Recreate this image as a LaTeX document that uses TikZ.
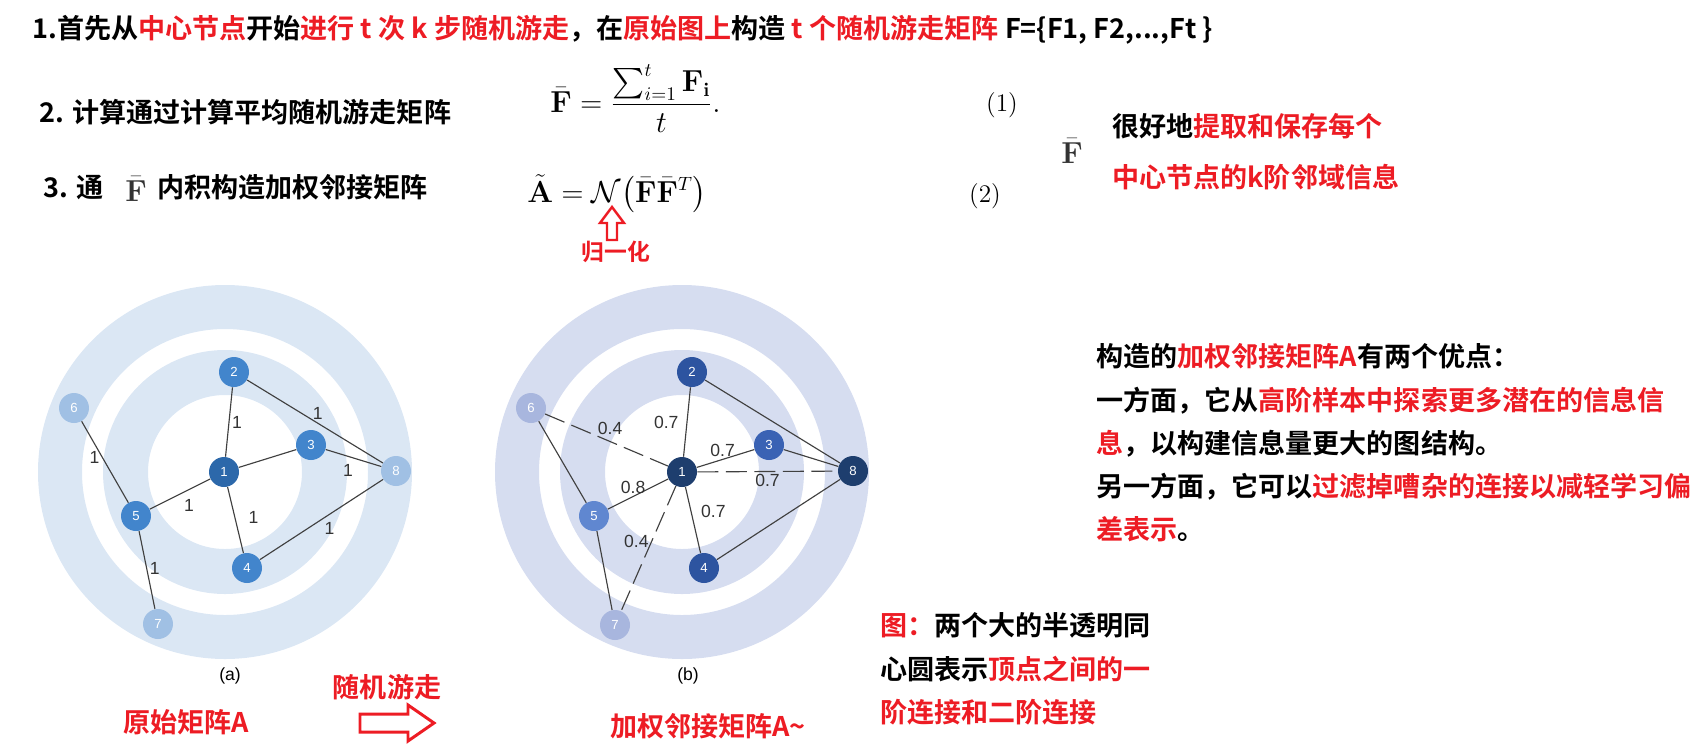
\documentclass[tikz,border=0pt]{standalone}
\usepackage{amsmath}
\usepackage[no-math]{fontspec}
\usepackage{xcolor}
\usepackage{tikz}
\usetikzlibrary{arrows.meta, positioning, calc}
\setmainfont{Noto Sans CJK SC}[BoldFont={Noto Sans CJK SC Bold}]
\newfontfamily\lab{Liberation Sans}
\definecolor{accent}{RGB}{237,28,36}
\definecolor{ringa}{RGB}{219,231,244}
\definecolor{ringb}{RGB}{214,221,240}
\definecolor{nodeAa}{RGB}{44,104,170}
\definecolor{nodeAb}{RGB}{66,133,204}
\definecolor{nodeAc}{RGB}{160,192,228}
\definecolor{nodeBa}{RGB}{30,62,110}
\definecolor{nodeBb}{RGB}{45,84,160}
\definecolor{nodeBc}{RGB}{58,98,180}
\definecolor{nodeBd}{RGB}{96,135,208}
\definecolor{nodeBe}{RGB}{168,182,222}
\definecolor{edgegray}{RGB}{64,64,64}
\newcommand{\hl}[1]{\textcolor{accent}{#1}}
\newcommand{\Fbar}{\bar{\mathbf{F}}}

\begin{document}
\begin{tikzpicture}[x=0.02cm, y=-0.02cm,
    every node/.style={inner sep=0pt, font=\fontsize{15.4}{24.6}\selectfont\bfseries},
    txt/.style={anchor=west, align=left},
    eqn/.style={font=\fontsize{16}{19}\selectfont},
    vert/.style={circle, minimum size=0.6cm, text=white, font=\lab\fontsize{7.5}{9}\selectfont},
    wt/.style={inner sep=1.5pt, font=\lab\fontsize{10}{12}\selectfont, text=black!80},
    link/.style={edgegray, line width=0.65pt},
    jump/.style={link, dash pattern=on 0.42cm off 0.15cm},
    hollow/.style={draw=accent, line width=1.4pt, line join=miter}]
  \useasboundingbox (0,0) rectangle (1693,745);

  % steps
  \node[txt] (step1) at (32,30) {1.首先从\hl{中心节点}开始\hl{进行 t 次 k 步随机游走}，在\hl{原始图上}构造 \hl{t 个随机游走矩阵} F=\{F1, F2,...,Ft \}};
  \node[txt] (step2) at (39,112) {2. 计算通过计算平均随机游走矩阵};
  \node[txt] (step3) at (43,187) {3. 通};
  \node[eqn, text=black!80] (fbar3) at (136,189) {$\Fbar$};
  \node[txt] (step3b) at (157,187) {内积构造加权邻接矩阵};

  \node[eqn, anchor=base west] (eq1) at (550,112) {$\displaystyle \Fbar=\frac{\sum_{i=1}^{t}\mathbf{F}_{\mathbf{i}}}{t}.$};
  \node[eqn, font=\fontsize{15}{18}\selectfont] (tag1) at (1002,105) {$(1)$};
  \node[eqn, anchor=base west] (eq2) at (527,202) {$\tilde{\mathbf{A}}=\mathcal{N}\bigl(\Fbar\Fbar^{T}\bigr)$};
  \node[eqn, font=\fontsize{15}{18}\selectfont] (tag2) at (985,196) {$(2)$};
  \draw[hollow] (612,207) -- (624,223) -- (617,223) -- (617,240) -- (607,240) -- (607,223) -- (600,223) -- cycle;
  \node[font=\fontsize{13}{15}\selectfont\bfseries, text=accent] (norm) at (616,252) {归一化};

  \node[eqn, text=black!80] (fbarR) at (1072,151) {$\Fbar$};
  \node[txt, font=\fontsize{15.4}{29}\selectfont\bfseries] (keep) at (1112,152) {很好地\hl{提取和保存每个}\\\hl{中心节点的k阶邻域信息}};

  % rings
  \coordinate (ca) at (225,472);
  \coordinate (cb) at (682,472);
  \fill[ringa, even odd rule] (ca) circle (187) circle (143) (ca) circle (122) circle (77);
  \fill[ringb, even odd rule] (cb) circle (187) circle (143) (cb) circle (122) circle (77);

  % graph (a)
  \node[vert, fill=nodeAa] (a1) at (224,472) {1};
  \node[vert, fill=nodeAb] (a2) at (234,372) {2};
  \node[vert, fill=nodeAb] (a3) at (311,445) {3};
  \node[vert, fill=nodeAb] (a4) at (247,568) {4};
  \node[vert, fill=nodeAb] (a5) at (136,516) {5};
  \node[vert, fill=nodeAc] (a6) at (74,408) {6};
  \node[vert, fill=nodeAc] (a7) at (158,624) {7};
  \node[vert, fill=nodeAc] (a8) at (396,471) {8};
  \draw[link] (a1) -- node[wt, right] {1} (a2);
  \draw[link] (a1) -- (a3);
  \draw[link] (a1) -- node[wt, pos=.46, right=6pt] {1} (a4);
  \draw[link] (a1) -- node[wt, pos=.35, below=4pt] {1} (a5);
  \draw[link] (a2) -- node[wt, pos=.52, above] {1} (a8);
  \draw[link] (a3) -- node[wt, pos=.4, below=3pt] {1} (a8);
  \draw[link] (a4) -- node[wt, below right] {1} (a8);
  \draw[link] (a6) -- node[wt, pos=.45, left] {1} (a5);
  \draw[link] (a5) -- node[wt, pos=.48, right] {1} (a7);
  \node[font=\lab\fontsize{10}{12}\selectfont] (capa) at (230,676) {(a)};

  % graph (b)
  \node[vert, fill=nodeBa] (b1) at (682,472) {1};
  \node[vert, fill=nodeBb] (b2) at (692,372) {2};
  \node[vert, fill=nodeBc] (b3) at (769,445) {3};
  \node[vert, fill=nodeBb] (b4) at (704,568) {4};
  \node[vert, fill=nodeBd] (b5) at (594,516) {5};
  \node[vert, fill=nodeBe] (b6) at (531,408) {6};
  \node[vert, fill=nodeBe] (b7) at (615,625) {7};
  \node[vert, fill=nodeBa] (b8) at (853,471) {8};
  \draw[link] (b1) -- node[wt, pos=.49, left=3pt] {0.7} (b2);
  \draw[link] (b1) -- node[wt, pos=.45, above] {0.7} (b3);
  \draw[link] (b1) -- node[wt, pos=.365, right=4pt] {0.7} (b4);
  \draw[link] (b1) -- node[wt, pos=.58, above] {0.8} (b5);
  \draw[link] (b2) -- (b8);
  \draw[link] (b3) -- (b8);
  \draw[link] (b4) -- (b8);
  \draw[link] (b6) -- (b5);
  \draw[link] (b5) -- (b7);
  \draw[jump] (b6) -- node[wt, pos=.53, above=2pt] {0.4} (b1);
  \draw[jump] (b1) -- node[wt, below] {0.7} (b8);
  \draw[jump] (b1) -- node[wt, pos=.44, left] {0.4} (b7);
  \node[font=\lab\fontsize{10}{12}\selectfont] (capb) at (688,676) {(b)};

  % bottom labels
  \node[text=accent] (orig) at (186,722) {原始矩阵A};
  \node[text=accent] (walk) at (387,687) {随机游走};
  \draw[hollow, line width=1.7pt] (360,714) -- (408,714) -- (408,705) -- (434,723) -- (408,741) -- (408,732) -- (360,732) -- cycle;
  \node[text=accent] (weighted) at (708,726) {加权邻接矩阵A\textasciitilde};

  % notes
  \node[txt] (merits) at (1096,443) {构造的\hl{加权邻接矩阵A}有两个优点：\\
    一方面，它从\hl{高阶样本中探索更多潜在的信息信}\\
    \hl{息}，以构建信息量更大的图结构。\\
    另一方面，它可以\hl{过滤掉嘈杂的连接以减轻学习偏}\\
    \hl{差表示}。};
  \node[txt] (caption) at (880,669) {\hl{图：}两个大的半透明同\\
    心圆表示\hl{顶点之间的一}\\
    \hl{阶连接和二阶连接}};
\end{tikzpicture}
\end{document}
